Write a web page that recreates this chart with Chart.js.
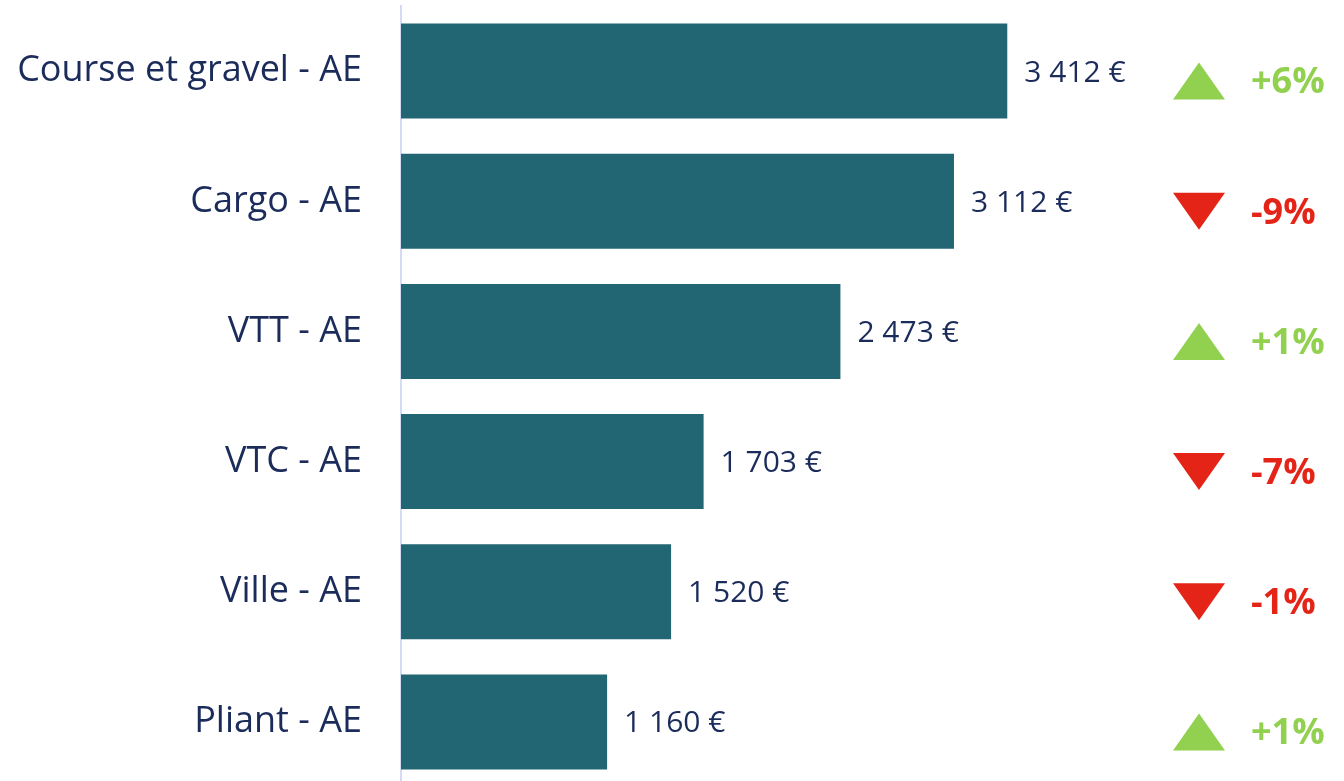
<!DOCTYPE html>
<html>
<head>
<meta charset="utf-8">
<script src="https://cdn.jsdelivr.net/npm/chart.js@4/dist/chart.umd.min.js"></script>
<style>
  html, body { margin: 0; padding: 0; background: #fff; overflow: hidden; }
</style>
</head>
<body>
<canvas id="myChart1" width="1344" height="787"></canvas>
<script>
const categories = ['Course et gravel - AE', 'Cargo - AE', 'VTT - AE', 'VTC - AE', 'Ville - AE', 'Pliant - AE'];
const sales = [3412, 3112, 2473, 1703, 1520, 1160];
const changePct = [6, -9, 1, -7, -1, 1];

const barColor = '#226674';
const textColor = '#1b2c5b';
const upColor = '#92d050';
const downColor = '#e32417';

function euro(v) {
    return String(v).replace(/\B(?=(\d{3})+(?!\d))/g, ' ') + ' €';
}

// value labels + trend arrows next to each bar
const labelsPlugin = {
    id: 'labels',
    afterDatasetsDraw(chart) {
        const ctx = chart.ctx;
        const meta = chart.getDatasetMeta(0);
        const area = chart.chartArea;
        ctx.save();
        meta.data.forEach((bar, i) => {
            ctx.fillStyle = textColor;
            ctx.font = '30px "Open Sans"';
            ctx.textAlign = 'left';
            ctx.textBaseline = 'middle';
            ctx.fillText(euro(sales[i]), bar.x + 17, bar.y + 2);

            const up = changePct[i] >= 0;
            const cx = area.right - 145;
            const cy = bar.y + 10;
            const w = 52, h = 37;
            ctx.fillStyle = up ? upColor : downColor;
            ctx.beginPath();
            if (up) {
                ctx.moveTo(cx, cy - h / 2);
                ctx.lineTo(cx + w / 2, cy + h / 2);
                ctx.lineTo(cx - w / 2, cy + h / 2);
            } else {
                ctx.moveTo(cx - w / 2, cy - h / 2);
                ctx.lineTo(cx + w / 2, cy - h / 2);
                ctx.lineTo(cx, cy + h / 2);
            }
            ctx.closePath();
            ctx.fill();

            ctx.font = 'bold 36px "Open Sans"';
            ctx.fillText((up ? '+' : '') + changePct[i] + '%', cx + 52, cy + 2);
        });
        ctx.restore();
    }
};

const ctx = document.getElementById('myChart1');

new Chart(ctx, {
    type: 'bar',
    data: {
        labels: categories,
        datasets: [{
            data: sales,
            backgroundColor: barColor,
            barPercentage: 0.73,
            categoryPercentage: 1
        }]
    },
    options: {
        indexAxis: 'y',
        responsive: false,
        animation: false,
        layout: { padding: { top: 6, right: 0, left: 0, bottom: 0 } },
        plugins: {
            legend: { display: false },
            tooltip: { enabled: false }
        },
        scales: {
            x: {
                display: false,
                min: 0,
                max: 5307
            },
            y: {
                afterFit(scale) {
                    scale.width = 401;
                    scale.paddingTop = 0;
                    scale.paddingBottom = 0;
                },
                grid: { display: false, drawTicks: false },
                border: { display: true, color: '#d3dcf4', width: 2 },
                ticks: {
                    padding: 39,
                    color: textColor,
                    font: { family: 'Open Sans', size: 36 }
                }
            }
        }
    },
    plugins: [labelsPlugin]
});
</script>
</body>
</html>
